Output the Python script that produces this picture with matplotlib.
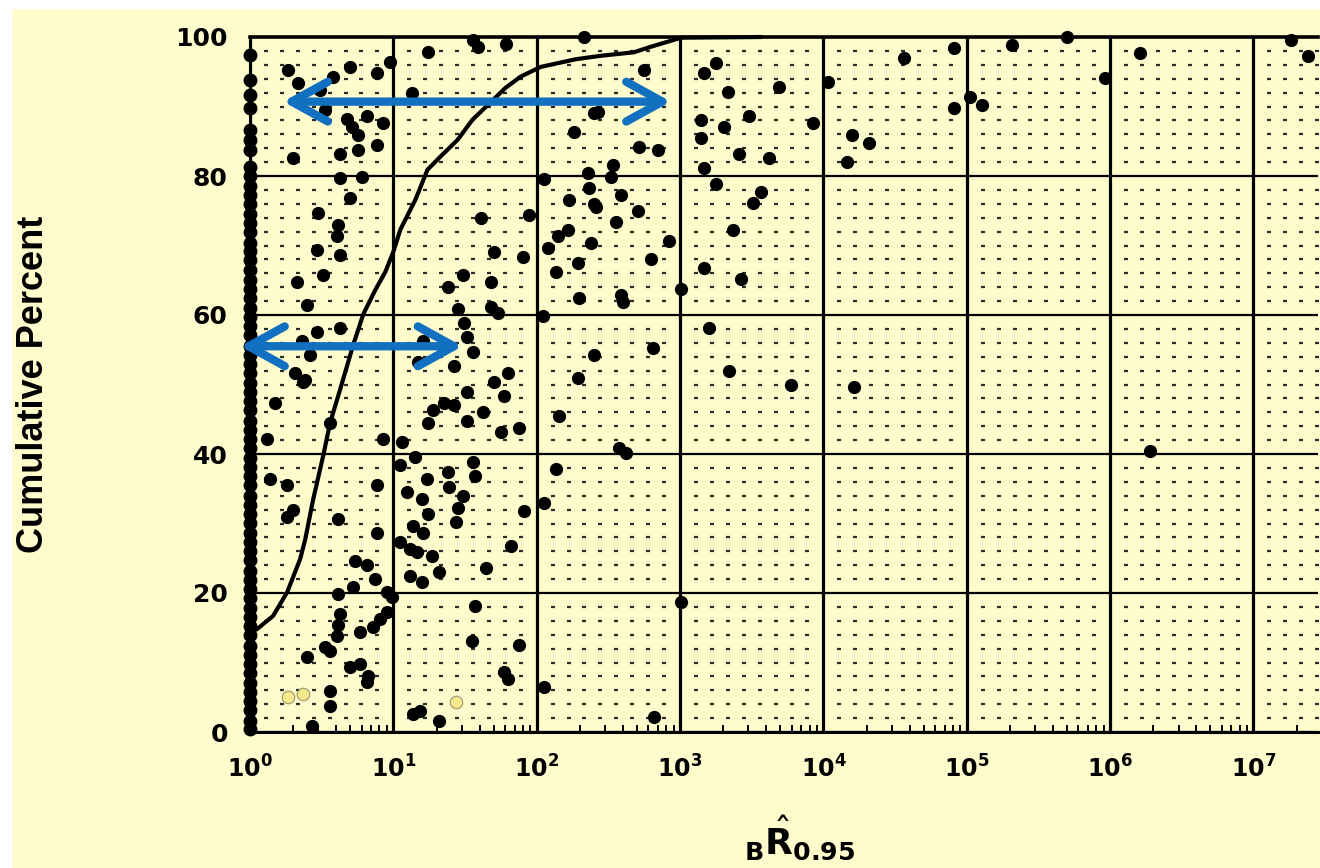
import numpy as np
import matplotlib
matplotlib.use("Agg")
import matplotlib.pyplot as plt
from matplotlib.patches import Rectangle
from matplotlib.ticker import FixedLocator, LogLocator, NullFormatter

# ---------------- data ----------------
# x values are read as log10(R) because the axis is logarithmic
curve_log10_x = [0.000, 0.049, 0.161, 0.259, 0.350, 0.385, 0.441, 0.510, 0.559, 0.629,
                 0.720, 0.790, 0.874, 0.944, 1.000, 1.049, 1.154, 1.238, 1.329, 1.448,
                 1.552, 1.643, 1.783, 1.888, 2.028, 2.273, 2.448, 2.678, 2.797, 3.007, 3.566]
curve_pct = [14.4, 14.8, 16.7, 20.1, 24.9, 27.7, 33.5, 39.7, 44.5, 49.3,
             55.7, 60.1, 63.6, 66.2, 69.1, 72.3, 76.6, 80.9, 82.8, 85.2,
             88.1, 89.9, 92.7, 94.3, 95.7, 96.8, 97.3, 97.8, 98.6, 99.9, 100.0]

point_log10_x = [
    1.245, 1.559, 1.587, 1.783, 2.329, 0.266, 0.336, 0.490, 0.580, 0.699,
    0.888, 0.979, 1.133, 0.524, 0.678, 0.818, 0.713, 0.755, 0.930, 0.888,
    0.755, 0.629, 0.301, 2.259, 2.399, 2.357, 0.629, 0.783, 2.049, 2.364,
    0.699, 2.224, 2.399, 0.476, 1.944, 1.608, 0.615, 0.608, 2.217, 2.147,
    2.378, 0.469, 2.077, 0.629, 1.699, 1.902, 2.287, 2.133, 1.483, 0.510,
    0.329, 1.678, 1.378, 2.294, 0.399, 1.448, 1.678, 1.727, 2.042, 1.490,
    0.469, 0.629, 1.517, 0.364, 0.420, 1.559, 1.210, 1.175, 1.420, 1.797,
    2.399, 2.287, 0.315, 0.385, 1.699, 2.748, 3.252, 3.168, 3.336, 3.692,
    4.559, 4.909, 2.427, 3.147, 3.483, 3.308, 3.147, 3.930, 4.030, 4.909,
    4.196, 4.315, 4.161, 2.713, 2.846, 3.413, 3.622, 2.531, 3.168, 2.517,
    3.252, 3.566, 3.510, 2.587, 2.413, 2.706, 2.552, 3.371, 2.923, 2.797,
    3.168, 3.427, 3.007, 2.587, 2.601, 3.203, 2.811, 3.343, 3.776, 4.210,
    5.699, 5.315, 6.210, 7.259, 7.378, 5.965, 5.021, 5.105, 0.371, 0.175,
    0.559, 0.119, 0.930, 1.063, 1.154, 1.049, 0.140, 0.259, 0.888, 0.301,
    0.259, 0.615, 0.888, 0.734, 0.818, 0.874, 0.720, 0.615, 0.958, 0.993,
    0.629, 0.958, 0.909, 0.615, 0.860, 0.769, 0.608, 0.524, 0.559, 0.399,
    0.769, 0.699, 0.825, 0.818, 0.559, 0.559, 0.434, 1.238, 1.378, 1.559,
    1.573, 1.385, 1.483, 1.098, 1.203, 1.448, 1.245, 1.434, 1.140, 1.210,
    1.049, 1.119, 1.168, 1.273, 1.315, 1.119, 1.203, 1.643, 1.818, 1.909,
    2.049, 2.133, 2.154, 1.517, 1.769, 1.350, 1.420, 1.280, 1.622, 1.517,
    1.245, 1.748, 1.874, 1.573, 1.552, 1.874, 1.769, 1.797, 2.049, 1.189,
    1.140, 1.315, 2.573, 2.622, 3.007, 2.818, 6.280]
point_pct = [
    97.8, 99.6, 98.6, 99.0, 100.0, 95.3, 93.4, 92.4, 94.3, 95.7,
    94.8, 96.4, 92.0, 89.5, 88.2, 88.6, 87.1, 85.9, 87.6, 84.5,
    83.8, 83.2, 82.6, 86.4, 89.1, 80.5, 79.7, 79.9, 79.5, 78.3,
    76.9, 76.6, 75.9, 74.7, 74.4, 74.0, 73.0, 71.3, 72.3, 71.3,
    70.4, 69.4, 69.7, 68.7, 69.1, 68.4, 67.5, 66.2, 65.8, 65.8,
    64.8, 64.7, 64.1, 62.5, 61.5, 60.8, 61.2, 60.3, 59.8, 58.9,
    57.6, 58.2, 56.8, 56.2, 54.3, 54.7, 56.2, 53.3, 52.6, 51.7,
    54.3, 51.0, 51.7, 50.7, 50.4, 95.3, 96.3, 94.8, 92.1, 92.8,
    97.0, 98.4, 89.2, 88.1, 88.6, 87.1, 85.5, 87.6, 93.5, 89.8,
    85.9, 84.8, 82.0, 84.2, 83.8, 83.2, 82.6, 81.6, 81.2, 79.9,
    78.9, 77.7, 76.1, 77.3, 75.6, 74.9, 73.4, 72.3, 70.7, 68.0,
    66.8, 65.2, 63.7, 62.9, 61.9, 58.2, 55.3, 51.9, 50.0, 49.6,
    100.0, 98.9, 97.7, 99.6, 97.3, 94.1, 91.4, 90.2, 50.4, 47.4,
    44.5, 42.2, 42.2, 41.7, 39.5, 38.4, 36.4, 35.6, 35.6, 32.0,
    30.9, 30.7, 28.6, 24.6, 24.1, 22.0, 20.8, 19.8, 20.1, 19.4,
    17.0, 17.2, 16.2, 15.4, 15.1, 14.4, 13.8, 12.2, 11.6, 10.8,
    9.8, 9.3, 8.0, 7.2, 5.9, 3.7, 0.9, 36.4, 37.4, 38.9,
    36.8, 35.2, 33.9, 34.5, 33.5, 32.3, 31.3, 30.2, 29.6, 28.7,
    27.4, 26.3, 25.9, 25.3, 23.0, 22.4, 21.6, 23.6, 26.7, 31.8,
    32.9, 37.9, 45.5, 48.9, 48.3, 47.4, 47.1, 46.4, 46.0, 44.7,
    44.4, 43.2, 43.7, 18.1, 13.1, 12.5, 8.6, 7.6, 6.5, 3.0,
    2.6, 1.6, 40.9, 40.1, 18.7, 2.2, 40.4]

# points sitting at R = 10^0 (dense column on the left edge)
column_pct = [97.4, 93.8, 91.7, 89.8, 86.6, 85.2, 83.8, 81.3, 80.0, 78.6,
              77.2, 76.0, 74.5, 73.2, 71.9, 70.4, 69.2, 67.9, 66.5, 65.0,
              63.8, 62.5, 61.0, 59.7, 58.4, 57.1, 55.6, 54.3, 53.0, 51.7,
              50.2, 48.9, 47.6, 46.3, 44.8, 43.5, 42.2, 40.9, 39.4, 38.1,
              36.8, 35.5, 34.0, 32.7, 31.4, 30.1, 28.6, 27.3, 26.0, 24.7,
              23.2, 21.9, 20.6, 19.3, 17.8, 16.5, 15.2, 13.9, 12.4, 11.1,
              9.8, 8.5, 7.0, 5.7, 4.4, 3.1, 1.6, 0.4]

# highlighted (yellow) points
hl_log10_x = [0.266, 0.371, 1.434]
hl_pct = [5.0, 5.5, 4.3]

# blue double arrows (log10 x start, log10 x end, y)
arrow_log10_x0 = [0.231, -0.070]
arrow_log10_x1 = [2.937, 1.483]
arrow_pct = [90.7, 55.5]

x_tick_exps = [0, 1, 2, 3, 4, 5, 6, 7]
y_ticks = [0, 20, 40, 60, 80, 100]

# ---------------- style ----------------
YELLOW = "#FEFCCD"
BLUE = "#1170C0"

fig = plt.figure(figsize=(13.2, 8.68), dpi=100, facecolor=YELLOW)
fig.patches.append(Rectangle((0, 1 - 8 / 868), 1, 8 / 868, transform=fig.transFigure,
                             color="white", zorder=-5))
fig.patches.append(Rectangle((0, 0), 11 / 1320, 1, transform=fig.transFigure,
                             color="white", zorder=-5))

ax = fig.add_axes([250 / 1320, 136 / 868, 1068 / 1320, 695 / 868])
ax.set_facecolor(YELLOW)
ax.set_xscale("log")
ax.set_xlim(1, 10 ** 7.45)
ax.set_ylim(0, 100)

# major grid
ax.xaxis.set_major_locator(FixedLocator([10.0 ** k for k in x_tick_exps]))
ax.yaxis.set_major_locator(FixedLocator(y_ticks))
ax.set_xticklabels([r"$\mathbf{10^{%d}}$" % k for k in x_tick_exps])
ax.set_yticklabels([str(v) for v in y_ticks])
for lab in ax.get_yticklabels():
    lab.set_fontweight("bold")
ax.grid(axis="x", which="major", color="black", lw=2.3, zorder=1)
ax.grid(axis="y", which="major", color="black", lw=1.6, zorder=1)
ax.set_axisbelow(True)

ax.xaxis.set_minor_locator(LogLocator(base=10, subs=np.arange(2, 10), numticks=100))
ax.xaxis.set_minor_formatter(NullFormatter())
ax.tick_params(axis="x", which="major", length=0, pad=17, labelsize=17)
ax.tick_params(axis="y", which="major", length=0, pad=16, labelsize=18)
ax.tick_params(axis="x", which="minor", direction="in", length=5, width=1.4,
               color="black", bottom=True, top=False)
ax.tick_params(axis="y", which="minor", length=0)

for side, lw in (("top", 2.6), ("bottom", 2.2), ("left", 2.2)):
    ax.spines[side].set_linewidth(lw)
    ax.spines[side].set_color("black")
ax.spines["right"].set_visible(False)

# dotted graph-paper grid (decoration)
dot_x = []
for d in range(8):
    for k in range(1, 9):
        v = d + k / 9
        if v < 7.45:
            dot_x.append(10 ** v)
dot_y = [v for v in range(2, 100, 2) if v % 20]
DX, DY = np.meshgrid(dot_x, dot_y)
ax.plot(DX.ravel(), DY.ravel(), ls="none", marker="_", ms=2.8, mew=1.6,
        color="#2a2a2a", zorder=1.5)

# cumulative curve
ax.plot(10 ** np.array(curve_log10_x), curve_pct, color="black", lw=3.0,
        zorder=3, clip_on=False, solid_capstyle="round", solid_joinstyle="round")

# scatter points
ax.plot(10 ** np.array(point_log10_x), point_pct, ls="none", marker="o", ms=8.5,
        color="black", zorder=4, clip_on=False)
ax.plot(np.ones(len(column_pct)), column_pct, ls="none", marker="o", ms=9,
        color="black", zorder=4, clip_on=False)
ax.plot(10 ** np.array(hl_log10_x), hl_pct, ls="none", marker="o", ms=9,
        markerfacecolor="#F4EA8C", markeredgecolor="#9a9a70", mew=0.8, zorder=4)

# blue arrows
for x0, x1, yv in zip(arrow_log10_x0, arrow_log10_x1, arrow_pct):
    ax.annotate("", xy=(10 ** x1, yv), xytext=(10 ** x0, yv),
                arrowprops=dict(arrowstyle="<->,head_length=1.0,head_width=0.55",
                                lw=6, color=BLUE, mutation_scale=26,
                                shrinkA=0, shrinkB=0, joinstyle="round",
                                capstyle="round"),
                annotation_clip=False, zorder=6)

# axis titles
fig.text(34 / 1320, 1 - 384 / 868, "Cumulative Percent", rotation=90,
         fontsize=26, family=["Liberation Sans", "DejaVu Sans"],
         fontweight="bold", ha="center", va="center")
fig.text(800 / 1320, 1 - 838 / 868,
         r"${}_{\mathbf{B}}\hat{\mathbf{R}}_{\mathbf{0.95}}$",
         fontsize=26, ha="center", va="center")

fig.savefig("out.png", dpi=100, facecolor=YELLOW)
